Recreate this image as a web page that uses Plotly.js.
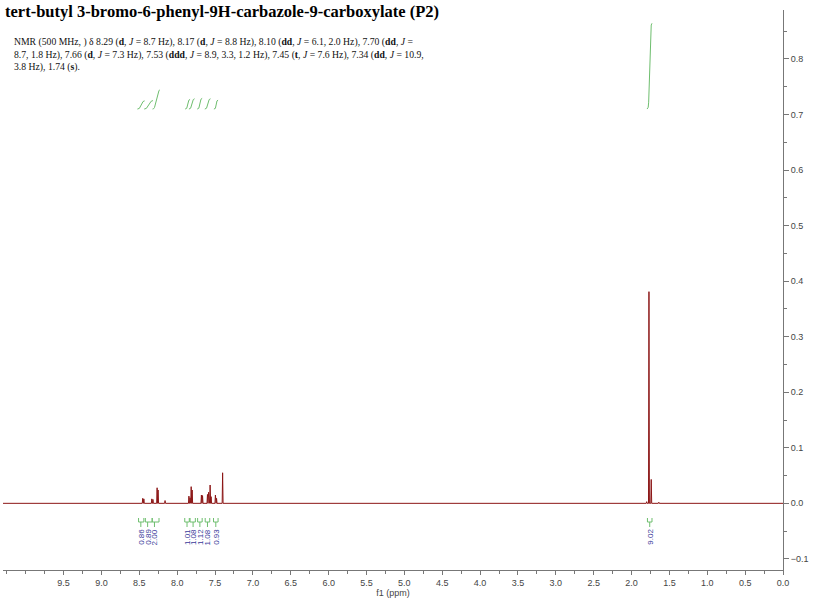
<!DOCTYPE html>
<html>
<head>
<meta charset="utf-8">
<script src="https://cdn.plot.ly/plotly-3.0.1.min.js"></script>
<style>html,body{margin:0;padding:0;background:#fff;}#chart{width:815px;height:603px;}</style>
</head>
<body>
<div id="chart"></div>
<script>
// ---- data ----
const chartTitle = "tert-butyl 3-bromo-6-phenyl-9H-carbazole-9-carboxylate (P2)";
const nmrText = "NMR (500 MHz, ) δ 8.29 (<b>d</b>, <i>J</i> = 8.7 Hz), 8.17 (<b>d</b>, <i>J</i> = 8.8 Hz), 8.10 (<b>dd</b>, <i>J</i> = 6.1, 2.0 Hz), 7.70 (<b>dd</b>, <i>J</i> =<br>8.7, 1.8 Hz), 7.66 (<b>d</b>, <i>J</i> = 7.3 Hz), 7.53 (<b>ddd</b>, <i>J</i> = 8.9, 3.3, 1.2 Hz), 7.45 (<b>t</b>, <i>J</i> = 7.6 Hz), 7.34 (<b>dd</b>, <i>J</i> = 10.9,<br>3.8 Hz), 1.74 (<b>s</b>).";

// peak list (ppm, intensity)
const peakPpm    = [8.455, 8.440, 8.335, 8.320, 8.265, 8.252, 8.160, 7.845, 7.830, 7.815, 7.802, 7.680, 7.665, 7.600, 7.585, 7.565, 7.552, 7.495, 7.480, 7.400, 1.800, 1.770, 1.740, 1.640];
const peakHeight = [0.009, 0.008, 0.008, 0.007, 0.028, 0.024, 0.005, 0.013, 0.010, 0.030, 0.024, 0.015, 0.014, 0.016, 0.020, 0.033, 0.012, 0.015, 0.009, 0.055, 0.003, 0.381, 0.043, 0.002];

// integration regions (ppm start -> end) and values
const intStart = [8.51, 8.42, 8.31, 7.88, 7.83, 7.72, 7.62, 7.50, 1.78];
const intEnd   = [8.44, 8.33, 8.24, 7.84, 7.78, 7.68, 7.57, 7.47, 1.74];
const intValue = [0.86, 0.89, 2.00, 1.01, 1.08, 1.12, 1.08, 0.93, 9.02];
const intLabel = ["0.86", "0.89", "2.00", "1.01", "1.08", "1.12", "1.08", "0.93", "9.02"];
const intLabelPpm = [8.48, 8.39, 8.30, 7.87, 7.79, 7.70, 7.60, 7.49, 1.76];

const xTickVals = [9.5, 9.0, 8.5, 8.0, 7.5, 7.0, 6.5, 6.0, 5.5, 5.0, 4.5, 4.0, 3.5, 3.0, 2.5, 2.0, 1.5, 1.0, 0.5, 0.0];

// ---- build traces ----
const specColor = 'rgb(140,22,22)';
const intColor = 'rgb(110,190,110)';
const hw = 0.006;
const sx = [10.3], sy = [0];
peakPpm.forEach((p, i) => { sx.push(p + hw, p, p - hw); sy.push(0, peakHeight[i], 0); });
sx.push(0.0); sy.push(0);

const traces = [{
  x: sx, y: sy, type: 'scatter', mode: 'lines',
  line: {color: specColor, width: 1}, hoverinfo: 'skip'
}];

intStart.forEach((s, i) => {
  const e = intEnd[i], v = intValue[i], d = s - e;
  traces.push({
    x: [s + 0.015, s, s - 0.15 * d, e + 0.15 * d, e, e - 0.01],
    y: [0, 0.02 * v, 0.08 * v, 0.92 * v, 0.98 * v, v],
    type: 'scatter', mode: 'lines', yaxis: 'y2',
    line: {color: intColor, width: 1}, hoverinfo: 'skip'
  });
});

// brackets + labels under the peaks
const plotTop = 10, plotBot = 570, plotH = plotBot - plotTop, plotL = 3, plotW = 780;
const py = Y => (plotBot - Y) / plotH;
const shapes = [], annotations = [];
intStart.forEach((s, i) => {
  const e = intEnd[i], c = intLabelPpm[i];
  const l = Math.max(s, c + 0.03), r = Math.min(e, c - 0.03);
  shapes.push({type: 'line', xref: 'x', yref: 'paper', x0: l, x1: r, y0: py(522), y1: py(522), line: {color: intColor, width: 1}});
  shapes.push({type: 'line', xref: 'x', yref: 'paper', x0: l, x1: l, y0: py(522), y1: py(518), line: {color: intColor, width: 1}});
  shapes.push({type: 'line', xref: 'x', yref: 'paper', x0: r, x1: r, y0: py(522), y1: py(518), line: {color: intColor, width: 1}});
  shapes.push({type: 'line', xref: 'x', yref: 'paper', x0: c, x1: c, y0: py(522), y1: py(527), line: {color: intColor, width: 1}});
  annotations.push({
    x: c, y: py(537), xref: 'x', yref: 'paper', text: intLabel[i], showarrow: false,
    textangle: -90, font: {family: 'Liberation Sans, Arial, sans-serif', size: 8, color: '#3a3a9a'},
    xanchor: 'center', yanchor: 'middle'
  });
});

annotations.push({
  x: (12 - plotL) / plotW, y: py(34), xref: 'paper', yref: 'paper', text: nmrText, showarrow: false,
  xanchor: 'left', yanchor: 'top', align: 'left',
  font: {family: 'Liberation Serif, Times New Roman, serif', size: 9.7, color: '#111'}
});

const layout = {
  width: 815, height: 603,
  margin: {l: plotL, r: 32, t: plotTop, b: 603 - plotBot},
  paper_bgcolor: '#fff', plot_bgcolor: '#fff',
  showlegend: false,
  title: {
    text: '<b>' + chartTitle + '</b>', xref: 'container', yref: 'container',
    x: 5 / 815, y: 1 - 5 / 603, xanchor: 'left', yanchor: 'top',
    font: {family: 'Liberation Serif, Times New Roman, serif', size: 16.5, color: '#000'}
  },
  xaxis: {
    range: [10.3, 0.0], showgrid: false, zeroline: false,
    showline: true, linecolor: '#777', linewidth: 1,
    ticks: 'outside', ticklen: 4, tickcolor: '#777',
    tickmode: 'array', tickvals: xTickVals, tickformat: '.1f',
    minor: {dtick: 0.25, ticks: 'outside', ticklen: 3, tickcolor: '#777'},
    tickfont: {family: 'Liberation Sans, Arial, sans-serif', size: 9, color: '#444'},
    title: {text: 'f1 (ppm)', standoff: 2, font: {family: 'Liberation Sans, Arial, sans-serif', size: 9, color: '#444'}}
  },
  yaxis: {
    range: [-0.12, 0.888], side: 'right', showgrid: false, zeroline: false,
    showline: true, linecolor: '#777', linewidth: 1,
    ticks: 'outside', ticklen: 5, tickcolor: '#777',
    dtick: 0.1, tick0: 0, tickformat: '.1f',
    minor: {dtick: 0.05, ticks: 'outside', ticklen: 3, tickcolor: '#777'},
    tickfont: {family: 'Liberation Sans, Arial, sans-serif', size: 9, color: '#444'}
  },
  yaxis2: {
    overlaying: 'y', range: [-48.5, 10.42], visible: false, fixedrange: true
  },
  shapes: shapes,
  annotations: annotations
};

Plotly.newPlot('chart', traces, layout, {staticPlot: true, displayModeBar: false});
</script>
</body>
</html>
